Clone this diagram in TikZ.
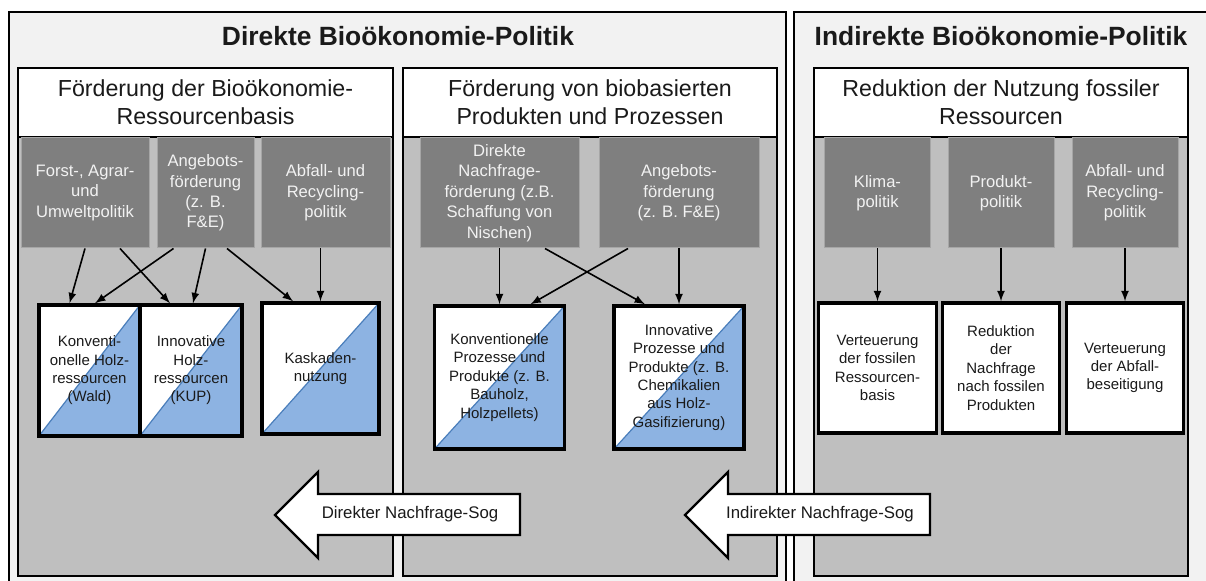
\documentclass[tikz,border=0pt]{standalone}
\usepackage{fontspec}
\setmainfont{Liberation Sans}
\definecolor{panelgray}{HTML}{F2F2F2}
\definecolor{bodygray}{HTML}{BFBFBF}
\definecolor{boxgray}{HTML}{7F7F7F}
\definecolor{boxline}{HTML}{A6A6A6}
\definecolor{woodblue}{HTML}{8DB3E2}
\definecolor{diagblue}{HTML}{4A7EBB}
\definecolor{textgray}{HTML}{1A1A1A}

\tikzset{
  outerpanel/.style={fill=panelgray, draw=black, line width=1.2pt},
  innerpanel/.style={draw=black, line width=1.3pt},
  paneltitle/.style={font=\fontsize{13.2}{15}\selectfont\bfseries, text=textgray},
  panelhead/.style={font=\fontsize{11.6}{14}\selectfont, align=center, text=textgray},
  policy/.style={fill=boxgray, draw=boxline, line width=0.5pt, text=panelgray, align=center,
    font=\fontsize{8.3}{10.2}\selectfont, minimum height=55pt, inner sep=1pt},
  effect/.style={fill=white, draw=black, line width=1.7pt, align=center,
    font=\fontsize{7.5}{9.2}\selectfont, text=textgray, inner sep=1pt},
  halfblue/.style={effect, path picture={
      \fill[woodblue] (path picture bounding box.south west) -- (path picture bounding box.south east)
        -- (path picture bounding box.north east) -- cycle;
      \draw[diagblue, line width=0.6pt] (path picture bounding box.south west) -- (path picture bounding box.north east);}},
  link/.style={-latex, line width=0.8pt},
  pull/.style={fill=white, draw=black, line width=1.2pt, line join=miter},
  pulltext/.style={font=\fontsize{8.4}{10}\selectfont, text=textgray},
}

\begin{document}
\begin{tikzpicture}[x=0.5pt, y=-0.5pt]
\clip (0,0) rectangle (1206,581);
\fill[white] (0,0) rectangle (1206,581);

% outer panels
\draw[outerpanel] (9,12) rectangle (786,600);
\draw[outerpanel] (794,12) rectangle (1230,600);
\node[paneltitle] (direkt) at (398,36) {Direkte Bioökonomie-Politik};
\node[paneltitle] (indirekt) at (1001,36) {Indirekte Bioökonomie-Politik};

% inner panels
\foreach \xa/\xb in {18/393, 403/777, 814/1188} {
  \fill[white] (\xa,68) rectangle (\xb,137);
  \fill[bodygray] (\xa,137) rectangle (\xb,576);
  \draw[innerpanel] (\xa,68) rectangle (\xb,576);
  \draw[innerpanel] (\xa,137) -- (\xb,137);
}
\node[panelhead] (basis) at (205.5,102) {Förderung der Bioökonomie-\\Ressourcenbasis};
\node[panelhead] (produkte) at (590,102) {Förderung von biobasierten\\Produkten und Prozessen};
\node[panelhead] (fossil) at (1001,102) {Reduktion der Nutzung fossiler\\Ressourcen};

% policies
\node[policy, minimum width=64pt] (forst) at (85,193) {Forst-, Agrar-\\und\\Umweltpolitik};
\node[policy, minimum width=48.5pt] (angebot) at (205.5,193) {Angebots-\\förderung\\(z. B.\\F\&E)};
\node[policy, minimum width=64.5pt] (abfall) at (325.5,193) {Abfall- und\\Recycling-\\politik};
\node[policy, minimum width=79.5pt] (nachfrage) at (499.5,193) {Direkte\\Nachfrage-\\förderung (z.B.\\Schaffung von\\Nischen)};
\node[policy, minimum width=80pt] (angebotb) at (679,193) {Angebots-\\förderung\\(z. B. F\&E)};
\node[policy, minimum width=53pt] (klima) at (877.5,193) {Klima-\\politik};
\node[policy, minimum width=53pt] (produkt) at (1001,193) {Produkt-\\politik};
\node[policy, minimum width=53pt] (abfallb) at (1125,193) {Abfall- und\\Recycling-\\politik};

% effects
\node[halfblue, minimum width=50.5pt, minimum height=65.5pt] (konvholz) at (89.5,370.5) {Konventi-\\onelle Holz-\\ressourcen\\(Wald)};
\node[halfblue, minimum width=51pt, minimum height=65.5pt] (innoholz) at (191,370.5) {Innovative\\Holz-\\ressourcen\\(KUP)};
\node[halfblue, minimum width=58.5pt, minimum height=65.5pt] (kaskade) at (320.5,368.5) {Kaskaden-\\nutzung};
\node[halfblue, minimum width=65pt, minimum height=71.5pt] (konvproz) at (499.5,377.5) {Konventionelle\\Prozesse und\\Produkte (z. B.\\Bauholz,\\Holzpellets)};
\node[halfblue, minimum width=65pt, minimum height=71.5pt] (innoproz) at (679,377.5) {Innovative\\Prozesse und\\Produkte (z. B.\\Chemikalien\\aus Holz-\\Gasifizierung)};
\node[effect, minimum width=59pt, minimum height=65pt] (teuerfossil) at (877.5,368) {Verteuerung\\der fossilen\\Ressourcen-\\basis};
\node[effect, minimum width=58.5pt, minimum height=65pt] (weniger) at (1001,368) {Reduktion\\der\\Nachfrage\\nach fossilen\\Produkten};
\node[effect, minimum width=58.5pt, minimum height=65pt] (teuerabfall) at (1125,368) {Verteuerung\\der Abfall-\\beseitigung};

% links
\draw[link] (forst.south) -- ([xshift=-10pt]konvholz.north);
\draw[link] ([xshift=17.5pt]forst.south) -- ([xshift=-10.5pt]innoholz.north);
\draw[link] ([xshift=-16pt]angebot.south) -- ([xshift=2.75pt]konvholz.north);
\draw[link] (angebot.south) -- ([xshift=1pt]innoholz.north);
\draw[link] ([xshift=10.75pt]angebot.south) -- ([xshift=-13.75pt]kaskade.north);
\draw[link] (abfall.south -| kaskade.north) -- (kaskade.north);
\draw[link] (nachfrage.south) -- (konvproz.north);
\draw[link] ([xshift=22.75pt]nachfrage.south) -- ([xshift=-17pt]innoproz.north);
\draw[link] ([xshift=-25.5pt]angebotb.south) -- ([xshift=15.5pt]konvproz.north);
\draw[link] (angebotb.south) -- (innoproz.north);
\draw[link] (klima.south) -- (teuerfossil.north);
\draw[link] (produkt.south) -- (weniger.north);
\draw[link] (abfallb.south) -- (teuerabfall.north);

% demand pull
\draw[pull] (275,515) -- (318,472) -- (318,494) -- (520,494) -- (520,535) -- (318,535) -- (318,558) -- cycle;
\node[pulltext] (direktsog) at (410,514) {Direkter Nachfrage-Sog};
\draw[pull] (685,515) -- (728,472) -- (728,494) -- (930,494) -- (930,535) -- (728,535) -- (728,558) -- cycle;
\node[pulltext] (indirektsog) at (820,514) {Indirekter Nachfrage-Sog};
\end{tikzpicture}
\end{document}
